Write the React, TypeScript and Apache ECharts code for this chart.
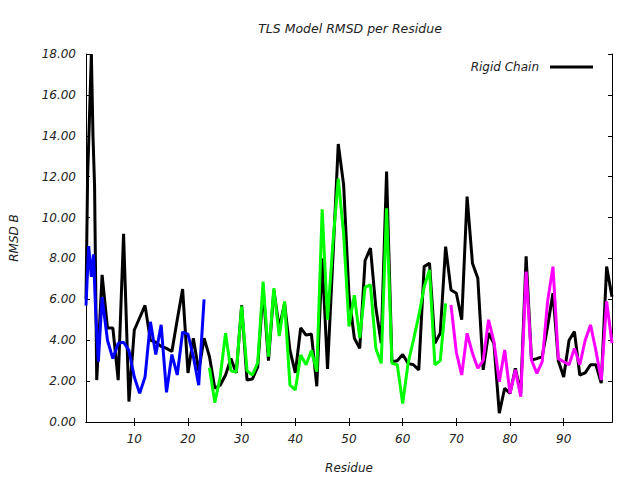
import React, { useEffect, useRef } from "react";
import * as echarts from "echarts";

const titleText = "TLS Model RMSD per Residue";
const xAxisTitle = "Residue";
const yAxisTitle = "RMSD B";
const rigidName = "Rigid Chain";

const xTicks = [10, 20, 30, 40, 50, 60, 70, 80, 90];

const rigidResidues = [
  1, 1.3, 1.6, 2, 2.3, 2.6, 3, 4, 5, 6, 7, 8, 9, 10, 11, 12, 13, 14, 15, 16, 17, 18, 19, 20,
  21, 22, 23, 24, 25, 26, 27, 28, 29, 30, 31, 32, 33, 34, 35, 36, 37, 38, 39, 40,
  41, 42, 43, 44, 45, 46, 47, 48, 49, 50, 51, 52, 53, 54, 55, 56, 57, 58, 59, 60,
  61, 62, 63, 64, 65, 66, 67, 68, 69, 70, 71, 72, 73, 74, 75, 76, 77, 78, 79, 80,
  81, 82, 83, 84, 85, 86, 87, 88, 89, 90, 91, 92, 93, 94, 95, 96, 97, 98, 99,
];
const rigidRmsd = [
  6.0, 12.0, 14.5, 18.0, 14.0, 11.5, 2.05, 7.2, 4.6, 4.6, 2.05, 9.2, 1.0, 4.5, 5.1, 5.7, 4.0, 3.9, 3.7, 3.6, 3.45, 5.0, 6.5, 2.4,
  4.1, 2.5, 4.1, 3.2, 1.65, 1.8, 2.3, 3.1, 2.4, 5.7, 2.05, 2.1, 2.7, 6.5, 3.0, 6.45, 4.6, 5.8, 3.5, 2.4,
  4.6, 4.25, 4.3, 1.75, 8.0, 2.6, 8.0, 13.6, 11.6, 6.2, 4.1, 3.6, 7.9, 8.5, 5.6, 3.85, 12.25, 2.95, 3.0, 3.3,
  2.87, 2.8, 2.55, 7.6, 7.77, 3.85, 4.34, 8.58, 6.46, 6.3, 5.0, 11.03, 7.77, 7.03, 2.55, 4.34, 3.85, 0.43, 1.65, 1.4,
  2.63, 1.4, 8.1, 3.03, 3.1, 3.2, 4.67, 6.3, 3.0, 2.2, 4.0, 4.42, 2.3, 2.4, 2.8, 2.8, 1.9, 7.6, 6.13,
];

const group1Residues = [1, 1.5, 2, 2.4, 2.8, 3.3, 4, 5, 6, 7, 8, 9, 10, 11, 12, 13, 14, 15, 16, 17, 18, 19, 20, 21, 22, 23];
const group1Rmsd = [5.7, 8.6, 7.1, 8.2, 5.4, 2.95, 6.1, 4.0, 3.1, 3.85, 3.9, 3.5, 2.2, 1.4, 2.2, 4.9, 3.3, 4.75, 1.45, 3.3, 2.3, 4.4, 4.3, 3.2, 1.8, 6.0];

const group2Residues = [
  24, 25, 26, 27, 28, 29, 30, 31, 32, 33, 34, 35, 36, 37, 38, 39, 40, 41, 42, 43, 44, 45, 46,
  47, 48, 49, 50, 51, 52, 53, 54, 55, 56, 57, 58, 59, 60, 61, 62, 63, 64, 65, 66, 67, 68,
];
const group2Rmsd = [
  2.65, 0.95, 2.2, 4.35, 2.5, 2.45, 5.65, 2.5, 2.3, 2.9, 6.87, 3.2, 6.55, 4.2, 5.9, 1.8, 1.57, 3.28, 2.8, 3.5, 2.46, 10.4, 5.0,
  8.75, 11.9, 9.2, 4.67, 6.2, 4.1, 6.6, 6.7, 3.6, 2.87, 10.45, 2.87, 2.8, 0.9, 2.87, 4.0, 5.2, 6.6, 7.44, 2.8, 3.0, 5.8,
];

const group3Residues = [
  69, 70, 71, 72, 73, 74, 75, 76, 77, 78, 79, 80, 81, 82, 83, 84, 85, 86, 87, 88, 89, 90, 91, 92, 93, 94, 95, 96, 97, 98, 99,
];
const group3Rmsd = [
  5.73, 3.4, 2.3, 4.34, 3.36, 2.63, 3.0, 5.0, 3.93, 1.97, 3.52, 1.4, 2.55, 1.24, 7.36, 3.03, 2.38, 2.95, 5.9, 7.6, 3.1, 2.95, 2.8, 3.6, 2.8, 4.0, 4.75, 3.5, 2.05, 5.9, 3.85,
];

const pairs = (xs: number[], ys: number[]) => xs.map((x, i) => [x, ys[i]]);

const FONT = "DejaVu Sans";

export default function App() {
  const ref = useRef<HTMLDivElement>(null);
  useEffect(() => {
    if (!ref.current) return;
    const chart = echarts.init(ref.current, null, { renderer: "svg" });
    const axisLine = { show: true, lineStyle: { color: "#000", width: 1 } };
    const labelStyle = { fontFamily: FONT, fontStyle: "italic" as const, fontSize: 12, color: "#222" };
    const lineSeries = (name: string, data: number[][], color: string) => ({
      name,
      type: "line",
      data,
      showSymbol: false,
      symbol: "none",
      lineStyle: { color, width: 3 },
      itemStyle: { color },
      silent: true,
    });
    chart.setOption({
      animation: false,
      backgroundColor: "#fff",
      title: {
        text: titleText,
        left: 345,
        top: 17,
        textAlign: "center",
        textStyle: { fontFamily: FONT, fontStyle: "italic", fontWeight: "normal", fontSize: 12.5, color: "#222" },
      },
      legend: {
        data: [rigidName],
        right: 42,
        top: 56,
        align: "right",
        itemWidth: 43,
        itemHeight: 3,
        icon: "rect",
        textStyle: { fontFamily: FONT, fontStyle: "italic", fontSize: 12, color: "#222", padding: [0, 6, 0, 0] },
      },
      grid: { left: 85, right: 28, top: 54, bottom: 58 },
      xAxis: [
        {
          type: "value",
          min: 1,
          max: 99,
          name: xAxisTitle,
          nameLocation: "middle",
          nameGap: 40,
          nameTextStyle: labelStyle,
          axisLine,
          splitLine: { show: false },
          axisTick: { show: true, inside: true, length: 4, customValues: xTicks, lineStyle: { color: "#000" } },
          axisLabel: { ...labelStyle, margin: 11, customValues: xTicks },
        },
        {
          type: "value",
          position: "top",
          min: 1,
          max: 99,
          axisLine,
          splitLine: { show: false },
          axisTick: { show: true, inside: true, length: 4, customValues: xTicks, lineStyle: { color: "#000" } },
          axisLabel: { show: false, customValues: xTicks },
        },
      ],
      yAxis: [
        {
          type: "value",
          min: 0,
          max: 18,
          interval: 2,
          name: yAxisTitle,
          nameLocation: "middle",
          nameRotate: 90,
          nameGap: 66,
          nameTextStyle: labelStyle,
          axisLine,
          splitLine: { show: false },
          axisTick: { show: true, inside: true, length: 4, lineStyle: { color: "#000" } },
          axisLabel: { ...labelStyle, margin: 10, formatter: (v: number) => v.toFixed(2) },
        },
        {
          type: "value",
          position: "right",
          min: 0,
          max: 18,
          interval: 2,
          axisLine,
          splitLine: { show: false },
          axisTick: { show: true, inside: true, length: 4, lineStyle: { color: "#000" } },
          axisLabel: { show: false },
        },
      ],
      series: [
        lineSeries(rigidName, pairs(rigidResidues, rigidRmsd), "#000000"),
        lineSeries("TLS Group 1", pairs(group1Residues, group1Rmsd), "#0000ff"),
        lineSeries("TLS Group 2", pairs(group2Residues, group2Rmsd), "#00ff00"),
        lineSeries("TLS Group 3", pairs(group3Residues, group3Rmsd), "#ff00ff"),
      ],
    });
    return () => chart.dispose();
  }, []);
  return <div ref={ref} style={{ width: 640, height: 480, position: "absolute", left: 0, top: 0 }} />;
}
